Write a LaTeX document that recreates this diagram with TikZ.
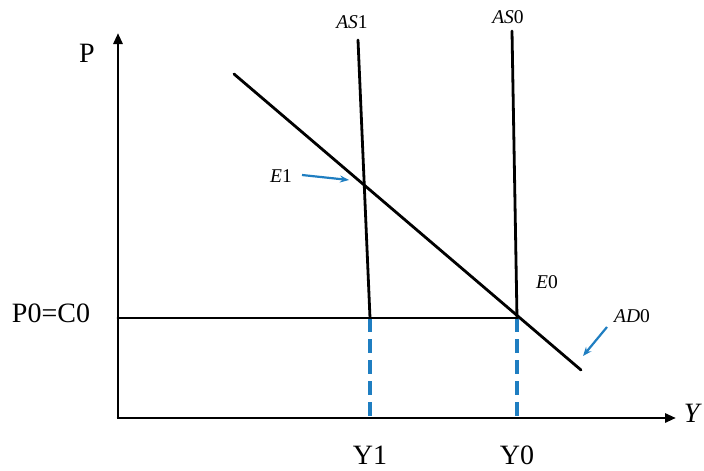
\documentclass[tikz,border=0pt]{standalone}
\usepackage{fontspec}
\setmainfont{Liberation Serif}
\usetikzlibrary{arrows.meta}
\definecolor{myblue}{HTML}{1F7EC1}
\begin{document}
\begin{tikzpicture}[x=1pt,y=-1pt,
  axis/.style={line width=2.9pt,-{Triangle[length=11pt,width=9pt]}},
  curve/.style={line width=2.8pt,line cap=round},
  guide/.style={draw=myblue,line width=4.2pt,dash pattern=on 14pt off 7pt},
  pointer/.style={draw=myblue,line width=2.2pt,-{Stealth[length=9pt,width=7pt]}},
  big/.style={font=\fontsize{28}{30}\selectfont,inner sep=0pt},
  small/.style={font=\fontsize{19.5}{21}\selectfont,inner sep=0pt}]
\useasboundingbox (0,0) rectangle (704,471);
% coordinates
\coordinate (O) at (118,418);
\coordinate (ytop) at (118,33);
\coordinate (xend) at (676,418);
\coordinate (as1top) at (358,40);
\coordinate (as1bot) at (370,318);
\coordinate (as0top) at (512,31);
\coordinate (E0pt) at (517,318);
\coordinate (adstart) at (234,74);
\coordinate (adend) at (581,370);
\coordinate (p0) at (118,318);
\coordinate (y1ax) at (370,418);
\coordinate (y0ax) at (517,418);
% guides
\draw[guide] (as1bot) -- (y1ax);
\draw[guide] (E0pt) -- (y0ax);
% axes
\draw[axis] (O) -- (ytop);
\draw[axis] ([xshift=-1.45pt]O) -- (xend);
% curves
\draw[curve] (as1top) -- (as1bot);
\draw[curve] (as0top) -- (E0pt);
\draw[curve] (adstart) -- (adend);
\draw[curve] (p0) -- (E0pt);
% labels
\node[big] (P) at (87,53) {P};
\node[big] (P0) at (51,313) {P0=C0};
\node[big] (Y1) at (370,455) {Y1};
\node[big] (Y0) at (517,455) {Y0};
\node[big] (Y) at (693,413) {\textit{Y}};
\node[small] (AS1) at (352,22) {\textit{AS}1};
\node[small] (AS0) at (508,17) {\textit{AS}0};
\node[small] (E1) at (281,176) {\textit{E}1};
\node[small] (E0) at (547,282) {\textit{E}0};
\node[small] (AD0) at (632,316) {\textit{AD}0};
% pointers
\coordinate (e1from) at (302,175);
\coordinate (e1to) at (349,180);
\coordinate (adfrom) at (607,327);
\coordinate (adto) at (583,356);
\draw[pointer] (e1from) -- (e1to);
\draw[pointer] (adfrom) -- (adto);
\end{tikzpicture}
\end{document}
